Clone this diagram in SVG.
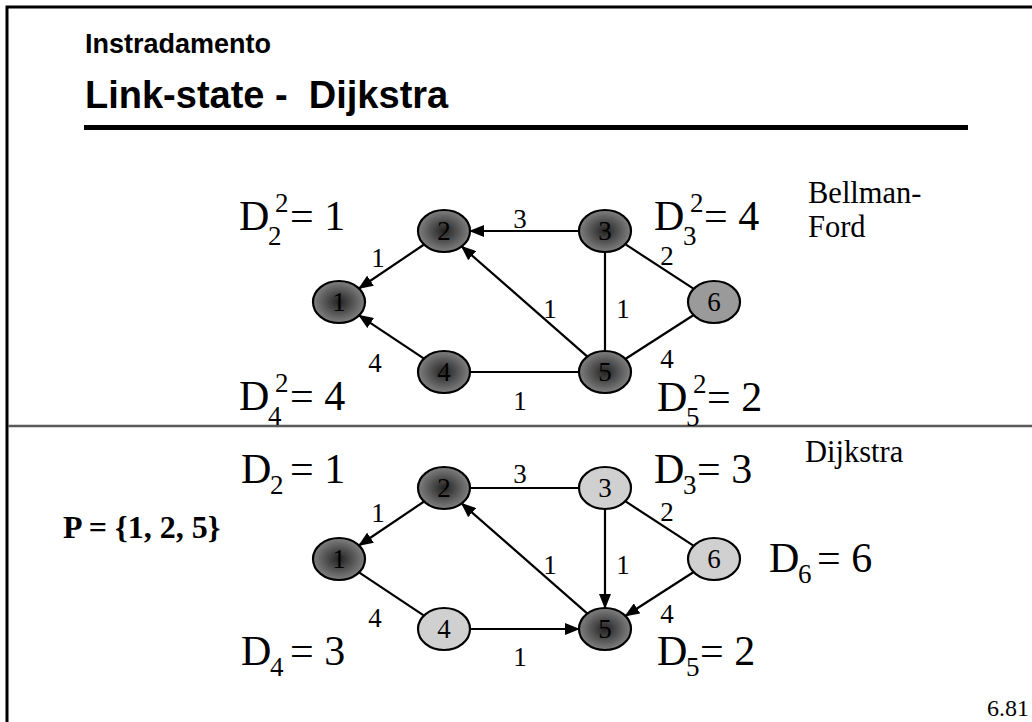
<svg xmlns="http://www.w3.org/2000/svg" width="1032" height="722" viewBox="0 0 1032 722">
<style>
.title{font-family:"Liberation Sans",Arial,sans-serif;font-weight:bold;fill:#000}
.t{font-family:"Liberation Serif","Times New Roman",serif;fill:#000}
.nl{font-family:"Liberation Serif","Times New Roman",serif;font-size:27px;text-anchor:middle;fill:#000}
.el{font-family:"Liberation Serif","Times New Roman",serif;font-size:27px;text-anchor:middle;fill:#000}
.dl{font-family:"Liberation Serif","Times New Roman",serif;font-size:42px;fill:#000}
.ds{font-family:"Liberation Serif","Times New Roman",serif;font-size:27px;fill:#000}
.dark{fill:url(#g);stroke:#000;stroke-width:2.2}
.mid{fill:#9a9a9a;stroke:#000;stroke-width:2.2}
.light{fill:#d0d0d0;stroke:#000;stroke-width:2.2}
.e{stroke:#000;stroke-width:2.2;fill:none}
.a{marker-end:url(#arr)}
</style>
<defs>
<radialGradient id="g" cx="0.5" cy="0.5" r="0.5">
<stop offset="0" stop-color="#222"/>
<stop offset="1" stop-color="#808080"/>
</radialGradient>
<marker id="arr" markerUnits="userSpaceOnUse" markerWidth="15" markerHeight="12" refX="14" refY="6" orient="auto">
<path d="M0,0 L15,6 L0,12 z" fill="#000"/>
</marker>
</defs>
<g id="frame">
<path d="M7,722 V7 H1032" fill="none" stroke="#000" stroke-width="3"/>
<line x1="8" y1="426" x2="1032" y2="426" stroke="#595959" stroke-width="2.5"/>
<line x1="84" y1="127.5" x2="968" y2="127.5" stroke="#000" stroke-width="5"/>
</g>
<g id="titles">
<text class="title" x="85" y="53" font-size="27">Instradamento</text>
<text class="title" x="85" y="108" font-size="38" xml:space="preserve">Link-state -  Dijkstra</text>
<text class="t" x="808" y="203" font-size="30.5">Bellman-</text>
<text class="t" x="808" y="237" font-size="30.5">Ford</text>
<text class="t" x="805" y="462" font-size="30.5">Dijkstra</text>
<text class="t" x="63" y="538" font-size="32" font-weight="bold">P = {1, 2, 5}</text>
<text class="t" x="1029" y="716" font-size="24" text-anchor="end">6.81</text>
</g>
<g id="connectors">
<line class="e a" x1="579" y1="231" x2="470" y2="231"/>
<line class="e a" x1="424.1" y1="244.5" x2="358.9" y2="288.5"/>
<line class="e a" x1="587.4" y1="356.6" x2="461.6" y2="246.4"/>
<line class="e a" x1="424" y1="358.7" x2="359" y2="315.3"/>
<line class="e" x1="470" y1="372" x2="579" y2="372"/>
<line class="e" x1="605" y1="252" x2="605" y2="351"/>
<line class="e" x1="625.2" y1="244.2" x2="693.8" y2="288.8"/>
<line class="e" x1="625.3" y1="359" x2="693.7" y2="315"/>
<line class="e" x1="470" y1="488" x2="579" y2="488"/>
<line class="e a" x1="424.1" y1="501.5" x2="358.9" y2="545.5"/>
<line class="e a" x1="587.4" y1="613.6" x2="461.6" y2="503.4"/>
<line class="e" x1="359" y1="572.3" x2="424" y2="615.7"/>
<line class="e a" x1="470" y1="629" x2="579" y2="629"/>
<line class="e a" x1="605" y1="509" x2="605" y2="608"/>
<line class="e" x1="625.2" y1="501.2" x2="693.8" y2="545.8"/>
<line class="e a" x1="693.7" y1="572" x2="625.3" y2="616"/>
<text class="el" x="520" y="228">3</text>
<text class="el" x="378" y="267">1</text>
<text class="el" x="375" y="372">4</text>
<text class="el" x="520" y="410">1</text>
<text class="el" x="550" y="318">1</text>
<text class="el" x="623" y="318">1</text>
<text class="el" x="667" y="265">2</text>
<text class="el" x="667" y="368">4</text>
<text class="el" x="520" y="483">3</text>
<text class="el" x="378" y="522">1</text>
<text class="el" x="375" y="627">4</text>
<text class="el" x="520" y="666">1</text>
<text class="el" x="550" y="574">1</text>
<text class="el" x="623" y="574">1</text>
<text class="el" x="667" y="521">2</text>
<text class="el" x="667" y="623">4</text>
</g>
<g id="top-n1"><ellipse class="dark" cx="339" cy="302" rx="26" ry="21"/><text class="nl" x="339" y="311">1</text></g>
<g id="top-n2"><ellipse class="dark" cx="444" cy="231" rx="26" ry="21"/><text class="nl" x="444" y="240">2</text></g>
<g id="top-n3"><ellipse class="dark" cx="605" cy="231" rx="26" ry="21"/><text class="nl" x="605" y="240">3</text></g>
<g id="top-n4"><ellipse class="dark" cx="444" cy="372" rx="26" ry="21"/><text class="nl" x="444" y="381">4</text></g>
<g id="top-n5"><ellipse class="dark" cx="605" cy="372" rx="26" ry="21"/><text class="nl" x="605" y="381">5</text></g>
<g id="top-n6"><ellipse class="mid" cx="714" cy="302" rx="26" ry="21"/><text class="nl" x="714" y="311">6</text></g>
<g id="bot-n1"><ellipse class="dark" cx="339" cy="559" rx="26" ry="21"/><text class="nl" x="339" y="568">1</text></g>
<g id="bot-n2"><ellipse class="dark" cx="444" cy="488" rx="26" ry="21"/><text class="nl" x="444" y="497">2</text></g>
<g id="bot-n3"><ellipse class="light" cx="605" cy="488" rx="26" ry="21"/><text class="nl" x="605" y="497">3</text></g>
<g id="bot-n4"><ellipse class="light" cx="444" cy="629" rx="26" ry="21"/><text class="nl" x="444" y="638">4</text></g>
<g id="bot-n5"><ellipse class="dark" cx="605" cy="629" rx="26" ry="21"/><text class="nl" x="605" y="638">5</text></g>
<g id="bot-n6"><ellipse class="light" cx="714" cy="559" rx="26" ry="21"/><text class="nl" x="714" y="568">6</text></g>
<g id="distances">
<text class="dl" x="239" y="230">D</text><text class="ds" x="268" y="245">2</text><text class="ds" x="275" y="212">2</text><text class="dl" x="290" y="230">= 1</text>
<text class="dl" x="654" y="230">D</text><text class="ds" x="683" y="245">3</text><text class="ds" x="690" y="212">2</text><text class="dl" x="704" y="230">= 4</text>
<text class="dl" x="239" y="410">D</text><text class="ds" x="268" y="425">4</text><text class="ds" x="275" y="392">2</text><text class="dl" x="290" y="410">= 4</text>
<text class="dl" x="657" y="411">D</text><text class="ds" x="686" y="426">5</text><text class="ds" x="693" y="393">2</text><text class="dl" x="707" y="411">= 2</text>
<text class="dl" x="241" y="483">D</text><text class="ds" x="270" y="494">2</text><text class="dl" x="290" y="483">= 1</text>
<text class="dl" x="654" y="483">D</text><text class="ds" x="683" y="494">3</text><text class="dl" x="697" y="483">= 3</text>
<text class="dl" x="241" y="665">D</text><text class="ds" x="270" y="676">4</text><text class="dl" x="290" y="665">= 3</text>
<text class="dl" x="657" y="665">D</text><text class="ds" x="686" y="676">5</text><text class="dl" x="700" y="665">= 2</text>
<text class="dl" x="769" y="572">D</text><text class="ds" x="798" y="583">6</text><text class="dl" x="817" y="572">= 6</text>
</g>
</svg>
